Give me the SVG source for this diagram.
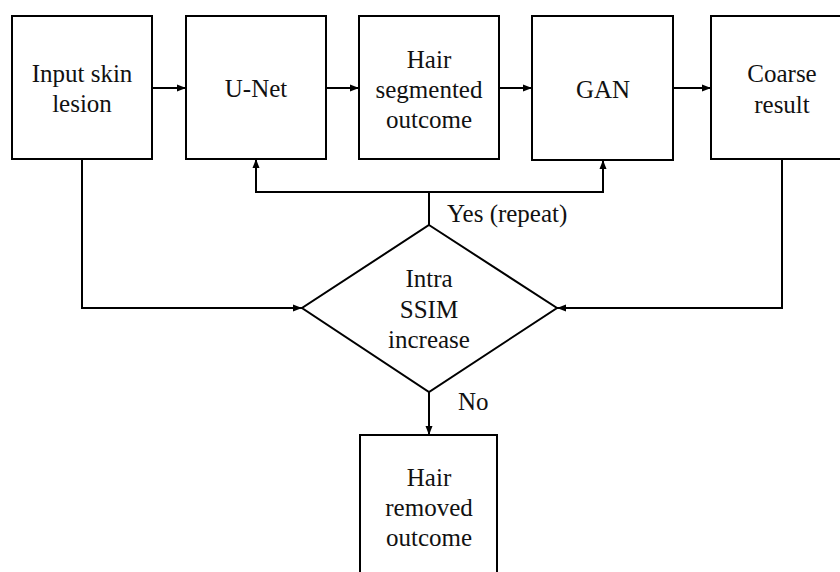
<svg xmlns="http://www.w3.org/2000/svg" width="840" height="572" viewBox="0 0 840 572">
<defs>
<style>
.box{fill:#fff;stroke:#000;stroke-width:2}
.ln{fill:none;stroke:#000;stroke-width:2}
text{font-family:"Liberation Serif","Times New Roman",serif;font-size:25px;fill:#111}
.c{text-anchor:middle}
</style>
<marker id="ah" markerUnits="userSpaceOnUse" markerWidth="10" markerHeight="8" refX="9" refY="4" orient="auto">
<path d="M0,0.5 L9,4 L0,7.5 z" fill="#000"/>
</marker>
</defs>
<rect width="840" height="572" fill="#fff"/>
<g id="connectors">
<line class="ln" x1="152" y1="88" x2="186" y2="88" marker-end="url(#ah)"/>
<line class="ln" x1="326" y1="88" x2="359" y2="88" marker-end="url(#ah)"/>
<line class="ln" x1="499" y1="88" x2="532" y2="88" marker-end="url(#ah)"/>
<line class="ln" x1="673" y1="88" x2="711" y2="88" marker-end="url(#ah)"/>
<line class="ln" x1="429" y1="225" x2="429" y2="192"/>
<polyline class="ln" points="429,192 256,192 256,159" marker-end="url(#ah)"/>
<polyline class="ln" points="429,192 603,192 603,160" marker-end="url(#ah)"/>
<polyline class="ln" points="82,159 82,308 302,308" marker-end="url(#ah)"/>
<polyline class="ln" points="782,159 782,308 557,308" marker-end="url(#ah)"/>
<line class="ln" x1="429" y1="392" x2="429" y2="435" marker-end="url(#ah)"/>
<text x="447" y="222">Yes (repeat)</text>
<text x="458" y="410">No</text>
</g>
<g id="input">
<rect class="box" x="12" y="16" width="140" height="143"/>
<text class="c" x="82" y="82">Input skin</text>
<text class="c" x="82" y="112">lesion</text>
</g>
<g id="unet">
<rect class="box" x="186" y="16" width="140" height="143"/>
<text class="c" x="256" y="97">U-Net</text>
</g>
<g id="segmented">
<rect class="box" x="359" y="16" width="140" height="143"/>
<text class="c" x="429" y="68">Hair</text>
<text class="c" x="429" y="98">segmented</text>
<text class="c" x="429" y="128">outcome</text>
</g>
<g id="gan">
<rect class="box" x="532" y="16" width="141" height="144"/>
<text class="c" x="603" y="98">GAN</text>
</g>
<g id="coarse">
<rect class="box" x="711" y="16" width="142" height="143"/>
<text class="c" x="782" y="82">Coarse</text>
<text class="c" x="782" y="113">result</text>
</g>
<g id="decision">
<polygon class="box" points="429,225 557,308 429,392 302,308"/>
<text class="c" x="429" y="287">Intra</text>
<text class="c" x="429" y="318">SSIM</text>
<text class="c" x="429" y="348">increase</text>
</g>
<g id="removed">
<rect class="box" x="360" y="435" width="137" height="150"/>
<text class="c" x="429" y="486">Hair</text>
<text class="c" x="429" y="516">removed</text>
<text class="c" x="429" y="546">outcome</text>
</g>
</svg>
